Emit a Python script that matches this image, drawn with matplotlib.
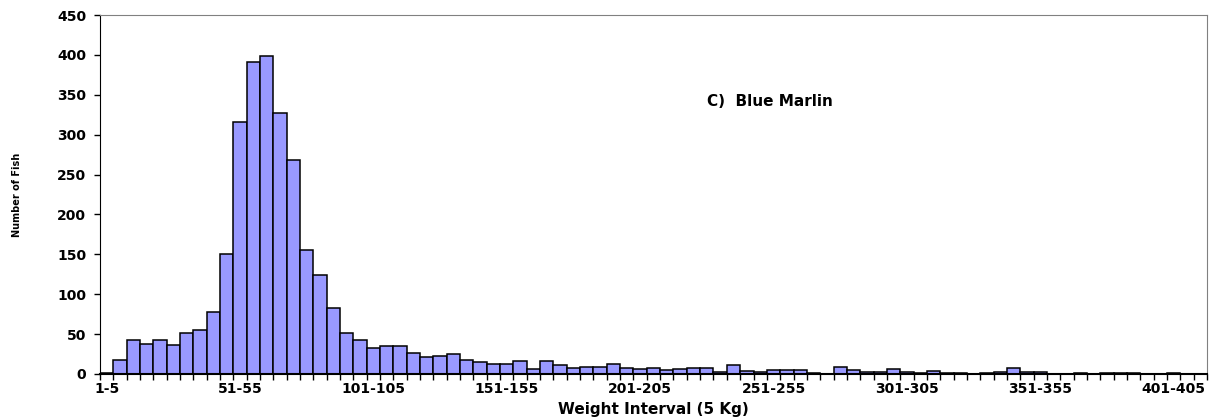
import matplotlib
matplotlib.use('Agg')
import matplotlib.pyplot as plt
import numpy as np

# weight classes, 5 kg wide
intervals = [f'{5 * i + 1}-{5 * i + 5}' for i in range(83)]

# number of fish per interval
counts = [1, 18, 43, 38, 42, 36, 51, 55, 78, 150,
          316, 391, 398, 327, 268, 156, 124, 83, 51, 42,
          33, 35, 35, 26, 21, 22, 25, 18, 15, 13,
          13, 16, 6, 16, 11, 8, 9, 9, 12, 8,
          6, 8, 5, 6, 7, 8, 3, 11, 4, 3,
          5, 5, 5, 1, 0, 9, 5, 3, 2, 6,
          3, 1, 4, 1, 1, 0, 1, 2, 7, 2,
          3, 0, 0, 1, 0, 1, 1, 1, 0, 0,
          1, 0, 0]

y_ticks = [0, 50, 100, 150, 200, 250, 300, 350, 400, 450]

plt.rcParams['font.family'] = ['DejaVu Sans']
plt.rcParams['font.weight'] = 'bold'

fig = plt.figure(figsize=(12.21, 4.19), dpi=100)
ax = fig.add_axes([0.0819, 0.1074, 0.9066, 0.8568])

x = np.arange(len(counts))
ax.bar(x, counts, width=1.0, align='edge', color='#9999FF',
       edgecolor='black', linewidth=1.1)

ax.set_xlim(0, len(counts))
ax.set_ylim(0, 450)
ax.set_yticks(y_ticks)
ax.set_yticklabels([str(v) for v in y_ticks], fontsize=10, fontweight='bold')

# tick marks at every bin boundary, labels every 10 bins
ax.set_xticks(np.arange(len(counts) + 1))
ax.set_xticklabels([])
ax.set_xticks(x[::10] + 0.5, minor=True)
ax.set_xticklabels(intervals[::10], minor=True, fontsize=10, fontweight='bold')
ax.tick_params(axis='x', which='major', direction='out', length=4, width=1)
ax.tick_params(axis='x', which='minor', length=0, pad=6)
ax.tick_params(axis='y', direction='out', length=4, width=1, pad=6)

ax.spines['left'].set_color('black')
ax.spines['bottom'].set_color('black')
ax.spines['bottom'].set_linewidth(1.5)
ax.spines['top'].set_color('#808080')
ax.spines['right'].set_color('#808080')

ax.set_xlabel('Weight Interval (5 Kg)', fontsize=11, fontweight='bold', labelpad=4)
ax.set_ylabel('Number of Fish', fontsize=7, fontweight='bold', labelpad=25)

ax.text(45.5, 341, 'C)  Blue Marlin', fontsize=11, fontweight='bold', va='center')

fig.savefig('out.png', dpi=100)
